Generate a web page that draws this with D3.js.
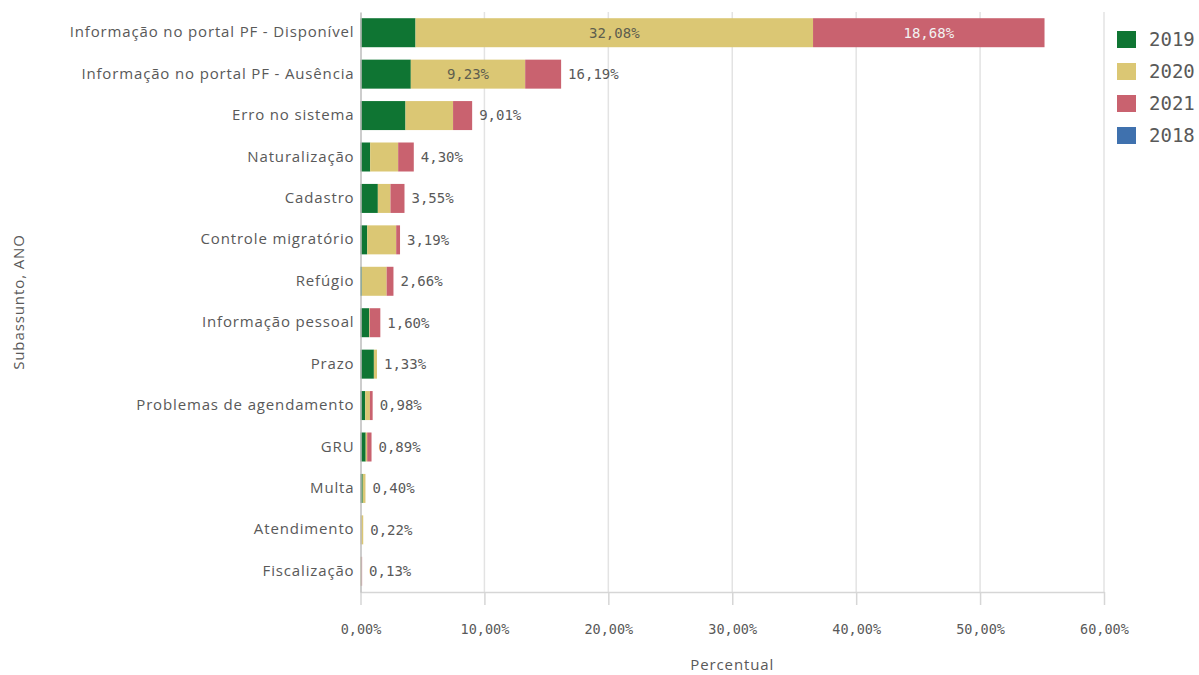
<!DOCTYPE html>
<html>
<head>
<meta charset="utf-8">
<script src="https://cdn.jsdelivr.net/npm/d3@7"></script>
<style>
  body { margin: 0; background: #fff; }
  svg { display: block; }
</style>
</head>
<body>
<svg id="chart" width="1199" height="675"></svg>
<script>
const categories = [
  "Informação no portal PF - Disponível",
  "Informação no portal PF - Ausência",
  "Erro no sistema",
  "Naturalização",
  "Cadastro",
  "Controle migratório",
  "Refúgio",
  "Informação pessoal",
  "Prazo",
  "Problemas de agendamento",
  "GRU",
  "Multa",
  "Atendimento",
  "Fiscalização"
];
const years = ["2019", "2020", "2021", "2018"];
const v2019 = [4.44, 4.06, 3.63, 0.78, 1.40, 0.54, 0.12, 0.70, 1.08, 0.38, 0.42, 0.18, 0.00, 0.00];
const v2020 = [32.08, 9.23, 3.84, 2.26, 1.02, 2.34, 1.99, 0.05, 0.25, 0.38, 0.12, 0.22, 0.22, 0.07];
const v2021 = [18.68, 2.90, 1.54, 1.26, 1.13, 0.31, 0.55, 0.85, 0.00, 0.22, 0.35, 0.00, 0.00, 0.06];
const v2018 = [0, 0, 0, 0, 0, 0, 0, 0, 0, 0, 0, 0, 0, 0];
const xTicks = [0, 10, 20, 30, 40, 50, 60];
const colors = ["#0f7533", "#dbc774", "#c9626f", "#3f71ae"];

const seriesValues = [v2019, v2020, v2021, v2018];
const rows = categories.map((c, i) => {
  const o = { cat: c };
  years.forEach((y, k) => o[y] = seriesValues[k][i]);
  return o;
});

const fmt = v => d3.format(".2f")(v).replace(".", ",") + "%";

const svg = d3.select("#chart");
const x0 = 360.5, x1 = 1104, yTop = 12, yBot = 592;
const sansFont = "'Open Sans', sans-serif";
const monoFont = "'DejaVu Sans Mono', monospace";

const x = d3.scaleLinear().domain([0, 60]).range([x0, x1]);
const y = d3.scaleBand().domain(categories).range([yTop, yBot]).paddingInner(0.3).paddingOuter(0.15);
const color = d3.scaleOrdinal().domain(years).range(colors);

// grid lines
svg.append("g").selectAll("line").data(xTicks.slice(1)).join("line")
  .attr("x1", d => x(d)).attr("x2", d => x(d))
  .attr("y1", yTop).attr("y2", yBot)
  .attr("stroke", "#e3e3e3").attr("stroke-width", 1.5);

// bottom axis
const xAxis = d3.axisBottom(x).tickValues(xTicks).tickFormat(d => fmt(d)).tickSizeInner(13).tickSizeOuter(0).tickPadding(19);
const gx = svg.append("g").attr("transform", `translate(0,${yBot})`).call(xAxis);
gx.select(".domain").attr("stroke", "#d6d6d6").attr("stroke-width", 1.5);
gx.selectAll(".tick line").attr("stroke", "#d6d6d6").attr("stroke-width", 1.5);
gx.selectAll("text").attr("fill", "#595959").style("font-family", monoFont).style("font-size", "13.5px");

// stacked bars
const stack = d3.stack().keys(years);
const series = stack(rows);
const g = svg.append("g");
series.forEach(s => {
  g.append("g").attr("fill", color(s.key)).selectAll("rect").data(s).join("rect")
    .attr("x", d => x(d[0]))
    .attr("y", d => y(d.data.cat))
    .attr("width", d => Math.max(0, x(d[1]) - x(d[0])))
    .attr("height", y.bandwidth());
});

// inside labels (segments wide enough)
series.forEach(s => {
  s.forEach(d => {
    const w = x(d[1]) - x(d[0]);
    if (w > 100) {
      svg.append("text")
        .attr("x", (x(d[0]) + x(d[1])) / 2)
        .attr("y", y(d.data.cat) + y.bandwidth() / 2)
        .attr("dy", "0.35em")
        .attr("text-anchor", "middle")
        .attr("fill", s.key === "2021" ? "#f2f2f2" : "#5e5e4e")
        .style("font-family", monoFont)
        .style("font-size", "14px")
        .text(fmt(d[1] - d[0]));
    }
  });
});

// total labels
rows.forEach(r => {
  const total = years.reduce((a, k) => a + r[k], 0);
  const end = x(total);
  if (end < 1000) {
    svg.append("text")
      .attr("x", end + 7)
      .attr("y", y(r.cat) + y.bandwidth() / 2)
      .attr("dy", "0.35em")
      .attr("fill", "#595959")
      .style("font-family", monoFont)
      .style("font-size", "14px")
      .text(fmt(total));
  }
});

// left axis
const yAxis = d3.axisLeft(y).tickSize(0).tickPadding(6);
const gy = svg.append("g").attr("transform", `translate(${x0},0)`).call(yAxis);
gy.select(".domain").attr("stroke", "#bdbdbd").attr("stroke-width", 1.5);
gy.selectAll("text").attr("fill", "#595959").style("font-family", sansFont)
  .style("font-size", "15px").style("letter-spacing", "0.85px").attr("dy", "0.3em");

// axis titles
svg.append("text").attr("x", (x0 + x1) / 2).attr("y", 670).attr("text-anchor", "middle")
  .attr("fill", "#595959").style("font-family", sansFont).style("font-size", "15px").style("letter-spacing", "0.9px").text("Percentual");
svg.append("text").attr("transform", "translate(24,302) rotate(-90)").attr("text-anchor", "middle")
  .attr("fill", "#595959").style("font-family", sansFont).style("font-size", "15px").style("letter-spacing", "0.9px").text("Subassunto, ANO");

// legend
const lg = svg.append("g").attr("transform", "translate(1117,31)");
years.forEach((yv, i) => {
  const row = lg.append("g").attr("transform", `translate(0,${i * 32})`);
  row.append("rect").attr("width", 19).attr("height", 17).attr("fill", color(yv));
  row.append("text").attr("x", 32).attr("y", 8.5).attr("dy", "0.36em")
    .attr("fill", "#595959").style("font-family", monoFont).style("font-size", "19px").text(yv);
});
</script>
</body>
</html>
